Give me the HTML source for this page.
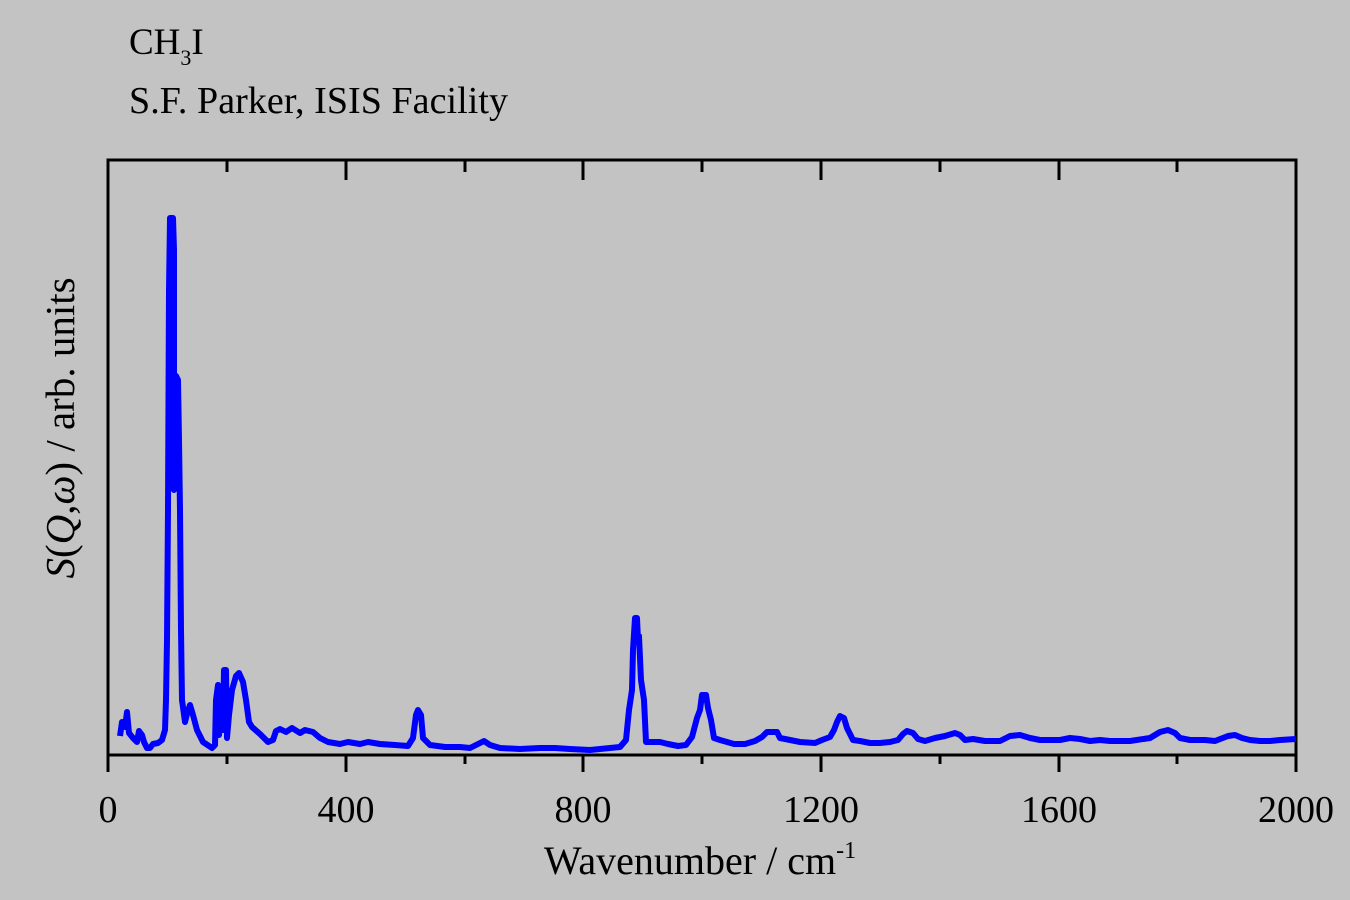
<!DOCTYPE html>
<html><head><style>body{margin:0;background:#c3c3c3}svg{display:block}</style></head>
<body>
<svg width="1350" height="900" xmlns="http://www.w3.org/2000/svg" font-family="Liberation Serif, serif" fill="#000">
<rect width="1350" height="900" fill="#c3c3c3"/>
<text x="129" y="54" font-size="37">CH<tspan font-size="22" dy="11">3</tspan><tspan dy="-11">I</tspan></text>
<text x="129" y="113" font-size="38" textLength="379">S.F. Parker, ISIS Facility</text>
<rect x="108" y="160" width="1188" height="595" fill="none" stroke="#000" stroke-width="3"/>
<g stroke="#000" stroke-width="3">
<line x1="108" y1="755" x2="108" y2="772"/><line x1="346" y1="755" x2="346" y2="772"/><line x1="583" y1="755" x2="583" y2="772"/><line x1="821" y1="755" x2="821" y2="772"/><line x1="1059" y1="755" x2="1059" y2="772"/><line x1="1296" y1="755" x2="1296" y2="772"/>
<line x1="227" y1="755" x2="227" y2="764"/><line x1="465" y1="755" x2="465" y2="764"/><line x1="702" y1="755" x2="702" y2="764"/><line x1="940" y1="755" x2="940" y2="764"/><line x1="1177" y1="755" x2="1177" y2="764"/>
<line x1="227" y1="160" x2="227" y2="172"/><line x1="346" y1="160" x2="346" y2="180"/><line x1="465" y1="160" x2="465" y2="172"/><line x1="583" y1="160" x2="583" y2="180"/><line x1="702" y1="160" x2="702" y2="172"/><line x1="821" y1="160" x2="821" y2="180"/><line x1="940" y1="160" x2="940" y2="172"/><line x1="1059" y1="160" x2="1059" y2="180"/><line x1="1177" y1="160" x2="1177" y2="172"/>
</g>
<g font-size="38" text-anchor="middle">
<text x="108" y="822">0</text><text x="346" y="822">400</text><text x="583" y="822">800</text><text x="821" y="822">1200</text><text x="1059" y="822">1600</text><text x="1296" y="822">2000</text>
</g>
<text x="700" y="874" font-size="40" text-anchor="middle">Wavenumber / cm<tspan font-size="24" dy="-16">-1</tspan></text>
<text transform="translate(74,428) rotate(-90)" font-size="41" text-anchor="middle"><tspan font-style="italic">S</tspan>(<tspan font-style="italic">Q</tspan>,<tspan font-style="italic">ω</tspan>) / arb. units</text>
<polyline fill="none" stroke="#0000ff" stroke-width="6" stroke-linejoin="round" points="120,736 122,722 125,727 127,712 129,733 133,738 137,742 139,731 142,735 144,742 147,748 150,748 153,744 158,743 162,740 165,730 166,700 167,640 168,510 169,290 170,218 173,218 174,250 174,490 176,376 178,380 179,440 180,510 181,630 182,700 185,722 187,714 190,705 193,715 197,730 203,742 212,748 215,745 216,700 218,685 219,735 221,688 223,730 224,670 226,670 227,738 229,715 232,690 236,676 239,673 243,682 246,700 249,722 252,727 260,734 268,742 273,740 276,731 280,729 286,732 292,728 300,733 305,730 313,732 320,738 328,742 340,744 348,742 360,744 368,742 380,744 395,745 408,746 413,738 416,715 418,710 421,715 423,738 430,745 445,747 460,747 470,748 478,744 484,741 490,745 500,748 520,749 540,748 555,748 570,749 590,750 610,748 620,747 626,740 629,710 632,690 633,650 635,618 637,618 638,640 639,636 641,680 644,700 646,742 652,742 660,742 668,744 678,746 686,745 692,737 697,718 700,710 702,695 706,695 708,708 711,720 714,738 720,740 734,744 745,744 755,741 762,737 767,732 777,732 780,738 790,740 800,742 815,743 822,740 830,737 834,730 837,722 840,716 844,718 847,728 853,740 860,741 870,743 880,743 890,742 898,740 903,734 907,731 913,733 918,739 925,741 935,738 945,736 955,733 960,735 965,740 973,739 985,741 1000,741 1010,736 1020,735 1030,738 1040,740 1060,740 1070,738 1080,739 1090,741 1100,740 1110,741 1130,741 1150,738 1160,732 1168,730 1175,733 1180,738 1190,740 1205,740 1215,741 1228,736 1235,735 1242,738 1250,740 1260,741 1270,741 1280,740 1296,739"/>
</svg>
</body></html>
